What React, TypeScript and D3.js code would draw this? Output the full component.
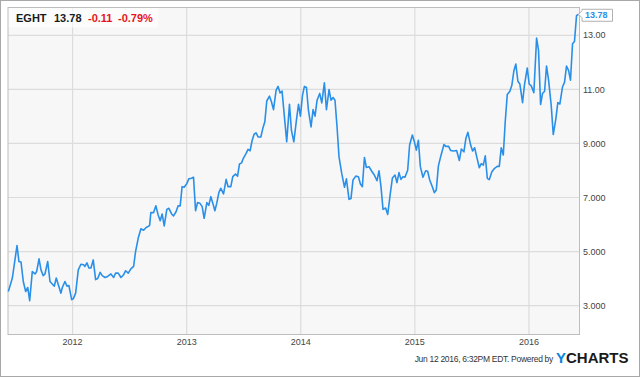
import React from "react";
import * as d3 from "d3";

const dates: number[] = [
  2011.437, 2011.472, 2011.513, 2011.53, 2011.548, 2011.568, 2011.589, 2011.607, 2011.624, 2011.647,
  2011.671, 2011.685, 2011.706, 2011.723, 2011.743, 2011.758, 2011.782, 2011.802, 2011.822, 2011.84,
  2011.857, 2011.875, 2011.898, 2011.91, 2011.933, 2011.951, 2011.968, 2011.992, 2012.006, 2012.027,
  2012.05, 2012.073, 2012.097, 2012.108, 2012.126, 2012.143, 2012.161, 2012.181, 2012.202, 2012.22,
  2012.242, 2012.26, 2012.284, 2012.307, 2012.336, 2012.36, 2012.377, 2012.4, 2012.424, 2012.447,
  2012.465, 2012.488, 2012.511, 2012.535, 2012.552, 2012.575, 2012.599, 2012.622, 2012.645, 2012.675,
  2012.686, 2012.71, 2012.73, 2012.75, 2012.768, 2012.785, 2012.803, 2012.826, 2012.844, 2012.868,
  2012.885, 2012.908, 2012.925, 2012.943, 2012.96, 2012.978, 2013.002, 2013.019, 2013.043, 2013.06,
  2013.078, 2013.095, 2013.115, 2013.136, 2013.153, 2013.177, 2013.194, 2013.212, 2013.229, 2013.247,
  2013.264, 2013.282, 2013.299, 2013.323, 2013.346, 2013.363, 2013.387, 2013.404, 2013.428, 2013.446,
  2013.463, 2013.481, 2013.498, 2013.521, 2013.538, 2013.556, 2013.573, 2013.591, 2013.608, 2013.626,
  2013.65, 2013.667, 2013.685, 2013.702, 2013.726, 2013.743, 2013.761, 2013.784, 2013.801, 2013.819,
  2013.836, 2013.854, 2013.877, 2013.901, 2013.918, 2013.939, 2013.962, 2013.98, 2013.997, 2014.015,
  2014.032, 2014.05, 2014.067, 2014.09, 2014.108, 2014.125, 2014.143, 2014.166, 2014.184, 2014.207,
  2014.225, 2014.248, 2014.265, 2014.283, 2014.3, 2014.318, 2014.335, 2014.359, 2014.383, 2014.4,
  2014.423, 2014.44, 2014.458, 2014.482, 2014.505, 2014.523, 2014.54, 2014.558, 2014.575, 2014.598,
  2014.622, 2014.645, 2014.668, 2014.686, 2014.703, 2014.721, 2014.744, 2014.762, 2014.785, 2014.803,
  2014.826, 2014.843, 2014.861, 2014.878, 2014.896, 2014.913, 2014.937, 2014.954, 2014.978, 2014.996,
  2015.013, 2015.031, 2015.048, 2015.071, 2015.095, 2015.112, 2015.13, 2015.153, 2015.171, 2015.188,
  2015.206, 2015.226, 2015.255, 2015.272, 2015.296, 2015.313, 2015.337, 2015.366, 2015.39, 2015.407,
  2015.43, 2015.447, 2015.465, 2015.489, 2015.506, 2015.524, 2015.547, 2015.565, 2015.582, 2015.6,
  2015.617, 2015.635, 2015.652, 2015.675, 2015.699, 2015.722, 2015.74, 2015.757, 2015.775, 2015.792,
  2015.81, 2015.833, 2015.85, 2015.868, 2015.885, 2015.903, 2015.92, 2015.944, 2015.961, 2015.985,
  2016.002, 2016.02, 2016.043, 2016.067, 2016.084, 2016.102, 2016.119, 2016.137, 2016.154, 2016.172,
  2016.195, 2016.213, 2016.236, 2016.253, 2016.271, 2016.294, 2016.312, 2016.329, 2016.347, 2016.364,
  2016.382, 2016.399, 2016.417, 2016.434,
];

const prices: number[] = [
  3.52, 4.02, 5.22, 4.63, 4.61, 3.89, 3.52, 3.67, 3.18, 4.26,
  4.17, 4.26, 4.73, 4.32, 4.11, 4.17, 4.63, 3.89, 3.8, 3.72,
  4.02, 3.77, 3.46, 3.67, 3.89, 3.72, 3.74, 3.22, 3.25, 3.46,
  4.32, 4.53, 4.51, 4.45, 4.58, 4.39, 4.39, 4.69, 3.96, 4.0,
  4.23, 4.11, 4.04, 4.08, 4.17, 4.04, 4.2, 4.2, 4.04, 4.14,
  4.29, 4.2, 4.36, 4.45, 5.0, 5.49, 5.84, 5.79, 5.89, 5.96,
  6.44, 6.44, 6.69, 6.35, 6.14, 6.39, 5.95, 6.56, 6.6, 6.39,
  6.32, 6.48, 6.69, 6.69, 7.4, 7.38, 7.52, 7.69, 7.71, 7.75,
  6.51, 6.81, 6.79, 6.66, 6.23, 6.81, 6.71, 7.03, 6.79, 6.51,
  6.79, 7.18, 7.34, 7.13, 7.67, 7.4, 7.4, 7.77, 7.87, 7.79,
  8.24, 8.28, 8.46, 8.63, 8.78, 8.73, 9.1, 9.34, 9.39, 9.24,
  9.24, 9.55, 9.8, 10.57, 10.75, 10.54, 10.25, 10.97, 11.11, 10.87,
  10.94, 10.11, 9.06, 10.45, 9.49, 9.06, 9.86, 10.45, 10.01, 10.78,
  11.11, 11.07, 10.23, 9.61, 10.25, 10.01, 10.6, 10.85, 10.5, 11.24,
  10.25, 10.99, 10.6, 10.7, 10.6, 9.61, 8.51, 7.89, 7.38, 7.69,
  6.93, 6.96, 7.65, 7.79, 7.77, 7.5, 7.4, 8.48, 8.11, 8.14,
  7.97, 7.83, 7.62, 7.99, 7.4, 6.56, 6.61, 6.37, 7.15, 7.72,
  7.83, 7.55, 7.92, 7.67, 7.77, 7.75, 8.01, 8.94, 9.31, 9.06,
  8.75, 9.12, 8.14, 7.75, 7.99, 7.97, 7.65, 7.4, 7.18, 7.28,
  8.16, 8.51, 8.96, 8.89, 8.89, 8.74, 8.72, 8.74, 8.37, 8.79,
  8.69, 9.18, 9.41, 8.94, 8.72, 8.84, 8.42, 8.1, 8.25, 8.2,
  8.54, 7.71, 7.66, 7.95, 8.08, 8.15, 8.15, 8.84, 8.57, 9.8,
  10.81, 10.93, 11.15, 11.69, 11.94, 11.3, 11.2, 10.51, 11.18, 11.79,
  11.2, 11.13, 10.88, 12.9, 12.44, 10.44, 10.85, 10.93, 11.86, 11.34,
  10.41, 9.33, 9.92, 10.51, 10.46, 11.09, 11.27, 11.86, 11.7, 11.34,
  12.69, 12.77, 13.73, 13.78,
];

const xTicks: number[] = [2012, 2013, 2014, 2015, 2016];
const xTickLabels: string[] = ["2012", "2013", "2014", "2015", "2016"];
const yTicks: number[] = [3, 5, 7, 9, 11, 13];
const yTickLabels: string[] = ["3.000", "5.000", "7.000", "9.000", "11.00", "13.00"];

const ticker = "EGHT";
const lastPrice = "13.78";
const change = "-0.11";
const changePct = "-0.79%";
const footerText = "Jun 12 2016, 6:32PM EDT.  Powered by";

const W = 640;
const H = 377;
const plot = { left: 8, right: 579.5, top: 7.5, bottom: 334.5 };
const FONT = "'Liberation Sans', Arial, sans-serif";
const BLUE = "#2a8fe8";

export default function App() {
  const x = d3.scaleLinear().domain([2011.434, 2016.443]).range([plot.left, plot.right]);
  const y = d3.scaleLinear().domain([1.93, 14.03]).range([plot.bottom, plot.top]);
  const data = dates.map((d, i) => ({ d, v: prices[i] }));
  const line = d3
    .line<{ d: number; v: number }>()
    .x((p) => x(p.d))
    .y((p) => y(p.v));
  const last = data[data.length - 1];
  const ly = y(last.v);

  return (
    <svg
      width={W}
      height={H}
      style={{ position: "absolute", left: 0, top: 0, fontFamily: FONT }}
    >
      <rect x={0} y={0} width={W} height={H} fill="#fff" />
      <rect x={0.5} y={0.5} width={W - 1} height={H - 1} fill="none" stroke="#a8a8a8" />
      <rect
        x={plot.left}
        y={plot.top}
        width={plot.right - plot.left}
        height={plot.bottom - plot.top}
        fill="#f7f7f7"
      />
      {yTicks.map((t) => (
        <line
          key={"gy" + t}
          x1={plot.left}
          x2={plot.right}
          y1={y(t)}
          y2={y(t)}
          stroke="#dcdcdc"
          strokeWidth={1.2}
        />
      ))}
      {xTicks.map((t) => (
        <line
          key={"gx" + t}
          x1={x(t)}
          x2={x(t)}
          y1={plot.top}
          y2={plot.bottom}
          stroke="#dcdcdc"
          strokeWidth={1.2}
        />
      ))}
      <rect x={plot.left} y={plot.top} width={150} height={20} fill="#ffffff" opacity={0.6} />
      <rect
        x={plot.left}
        y={plot.top}
        width={plot.right - plot.left}
        height={plot.bottom - plot.top}
        fill="none"
        stroke="#bdbdbd"
      />
      <path d={line(data) || ""} fill="none" stroke={BLUE} strokeWidth={1.6} strokeLinejoin="round" />
      {yTicks.map((t, i) => (
        <text
          key={"ty" + t}
          x={583}
          y={y(t)}
          dy="0.35em"
          fontSize={9}
          fill="#444"
        >
          {yTickLabels[i]}
        </text>
      ))}
      {xTicks.map((t, i) => (
        <text
          key={"tx" + t}
          x={x(t)}
          y={345}
          textAnchor="middle"
          fontSize={9}
          fill="#444"
        >
          {xTickLabels[i]}
        </text>
      ))}
      {/* last price label */}
      <path
        d={`M${plot.right - 1},${ly} L${plot.right + 2.5},${ly - 3.5} L${plot.right + 2.5},${ly - 5} L612.5,${ly - 5} L612.5,${ly + 7} L${plot.right + 2.5},${ly + 7} L${plot.right + 2.5},${ly + 3.5} Z`}
        fill="#fff"
        stroke="#b0b0b0"
      />
      <text x={585} y={ly + 1} dy="0.35em" fontSize={9} fontWeight="bold" fill={BLUE}>
        {lastPrice}
      </text>
      {/* header */}
      <text x={16} y={21.5} fontSize={11} fontWeight="bold">
        <tspan fill="#1a1a1a">{ticker}</tspan>
        <tspan x={54} fill="#1a1a1a">{lastPrice}</tspan>
        <tspan x={88} fill="#e8141b">{change}</tspan>
        <tspan x={118} fill="#e8141b">{changePct}</tspan>
      </text>
      {/* footer */}
      <text x={553} y={362} textAnchor="end" fontSize={8.5} fill="#333" letterSpacing={-0.3}>
        {footerText}
      </text>
      <text x={556} y={363} fontSize={15} fontWeight="bold">
        <tspan fill="#0a84dc">Y</tspan>
        <tspan fill="#1a1a1a">CHARTS</tspan>
      </text>
    </svg>
  );
}
